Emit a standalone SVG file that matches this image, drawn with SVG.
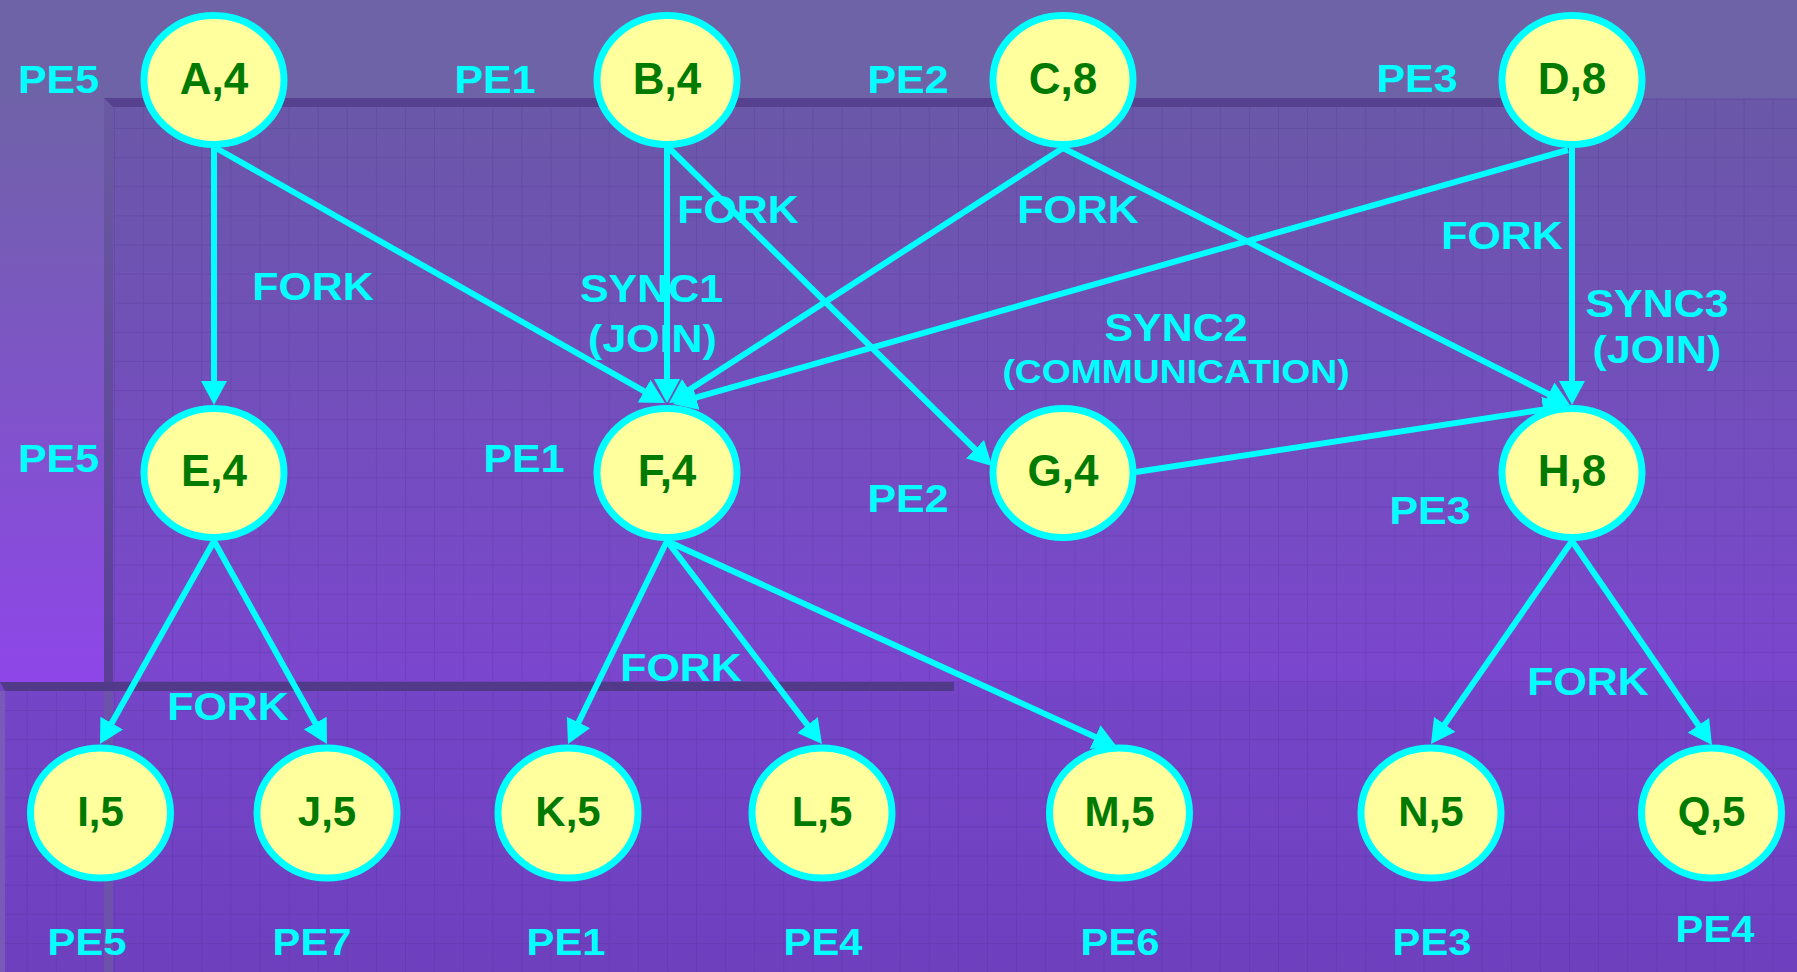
<svg xmlns="http://www.w3.org/2000/svg" width="1797" height="972" viewBox="0 0 1797 972">
<style>
.node ellipse{fill:#FFFF9E;stroke:#00FFFF;stroke-width:7}
.node text{font-family:"Liberation Sans",Arial,sans-serif;font-weight:bold;font-size:44px;fill:#007A00;text-anchor:middle}
.node.low text{font-size:42px}
.edge{stroke:#00FFFF;stroke-width:6;fill:none;marker-end:url(#arr)}
.lbl{font-family:"Liberation Sans",Arial,sans-serif;font-weight:bold;font-size:38px;fill:#00FFFF;text-anchor:middle}
.sm{font-size:33px}
.bt{font-size:37px}
</style>
<defs>
<linearGradient id="gLeft" x1="0" y1="98" x2="0" y2="682" gradientUnits="userSpaceOnUse">
<stop offset="0" stop-color="#6F62A8"/><stop offset="1" stop-color="#8E46E8"/>
</linearGradient>
<linearGradient id="gPanel" x1="0" y1="98" x2="0" y2="682" gradientUnits="userSpaceOnUse">
<stop offset="0" stop-color="#6A58A8"/><stop offset="1" stop-color="#7B46CE"/>
</linearGradient>
<linearGradient id="gLow" x1="0" y1="682" x2="0" y2="972" gradientUnits="userSpaceOnUse">
<stop offset="0" stop-color="#7545C8"/><stop offset="1" stop-color="#6E40BE"/>
</linearGradient>
<linearGradient id="gBorderL" x1="0" y1="98" x2="0" y2="682" gradientUnits="userSpaceOnUse">
<stop offset="0" stop-color="#6A5AA2"/><stop offset="1" stop-color="#5A3E96"/>
</linearGradient>
<pattern id="grid" x="114" y="99" width="29.1" height="29.1" patternUnits="userSpaceOnUse">
<path d="M0 0.5H29.1M0.5 0V29.1" stroke="#3E2478" stroke-opacity="0.18" stroke-width="1" fill="none"/>
</pattern>
<marker id="arr" viewBox="0 0 24 26" refX="14" refY="13" markerWidth="24" markerHeight="26" markerUnits="userSpaceOnUse" orient="auto">
<path d="M0 0L24 13L0 26Z" fill="#00FFFF"/>
</marker>
</defs>

<g id="background">
<rect x="0" y="0" width="1797" height="972" fill="#6E63A6"/>
<rect x="0" y="98" width="104" height="584" fill="url(#gLeft)"/>
<rect x="104" y="98" width="1693" height="584" fill="url(#gPanel)"/>
<rect x="104" y="98" width="1693" height="584" fill="url(#grid)"/>
<rect x="0" y="682" width="1797" height="290" fill="url(#gLow)"/>
<rect x="0" y="682" width="1797" height="290" fill="url(#grid)"/>
<rect x="104" y="98" width="9" height="584" fill="url(#gBorderL)"/>
<path d="M104 98H1540V107H113Z" fill="#56418E"/>
<rect x="104" y="691" width="9" height="281" fill="#6C52AA"/>
<rect x="0" y="691" width="5" height="281" fill="#7A5AB8"/>
<path d="M0 682H954V691H5Z" fill="#513A8A"/>
</g>

<g id="connectors">
<line class="edge" x1="214" y1="148" x2="214" y2="395"/>
<line class="edge" x1="216" y1="148" x2="656.3" y2="398.1"/>
<line class="edge" x1="667" y1="148" x2="667" y2="393"/>
<line class="edge" x1="669" y1="148" x2="984.9" y2="459"/>
<line class="edge" x1="1063" y1="148" x2="677.4" y2="397.6"/>
<line class="edge" x1="1063" y1="148" x2="1561.1" y2="400.5"/>
<line class="edge" x1="1568" y1="150" x2="682.6" y2="401.3"/>
<line class="edge" x1="1572" y1="148" x2="1572" y2="395"/>
<line class="edge" x1="1136" y1="472" x2="1557.1" y2="407.5"/>
<line class="edge" x1="214" y1="541" x2="104.9" y2="735.3"/>
<line class="edge" x1="214" y1="541" x2="322.1" y2="735.3"/>
<line class="edge" x1="667" y1="541" x2="572.4" y2="735"/>
<line class="edge" x1="667" y1="541" x2="815.9" y2="736.1"/>
<line class="edge" x1="667" y1="541" x2="1107.9" y2="742.8"/>
<line class="edge" x1="1572" y1="541" x2="1436.7" y2="735.8"/>
<line class="edge" x1="1572" y1="541" x2="1706.3" y2="736.8"/>
</g>

<g id="node-A" class="node"><ellipse cx="214" cy="80" rx="70" ry="64.5"/><text x="214" y="94">A,4</text></g>
<g id="node-B" class="node"><ellipse cx="667" cy="80" rx="70" ry="64.5"/><text x="667" y="94">B,4</text></g>
<g id="node-C" class="node"><ellipse cx="1063" cy="80" rx="70" ry="64.5"/><text x="1063" y="94">C,8</text></g>
<g id="node-D" class="node"><ellipse cx="1572" cy="80" rx="70" ry="64.5"/><text x="1572" y="94">D,8</text></g>
<g id="node-E" class="node"><ellipse cx="214" cy="473" rx="70" ry="64.5"/><text x="214" y="486">E,4</text></g>
<g id="node-F" class="node"><ellipse cx="667" cy="473" rx="70" ry="64.5"/><text x="667" y="486">F,4</text></g>
<g id="node-G" class="node"><ellipse cx="1063" cy="473" rx="70" ry="64.5"/><text x="1063" y="486">G,4</text></g>
<g id="node-H" class="node"><ellipse cx="1572" cy="473" rx="70" ry="64.5"/><text x="1572" y="486">H,8</text></g>
<g id="node-I" class="node low"><ellipse cx="100.5" cy="813" rx="70" ry="65"/><text x="100.5" y="826">I,5</text></g>
<g id="node-J" class="node low"><ellipse cx="327" cy="813" rx="70" ry="65"/><text x="327" y="826">J,5</text></g>
<g id="node-K" class="node low"><ellipse cx="568" cy="813" rx="70" ry="65"/><text x="568" y="826">K,5</text></g>
<g id="node-L" class="node low"><ellipse cx="822" cy="813" rx="70" ry="65"/><text x="822" y="826">L,5</text></g>
<g id="node-M" class="node low"><ellipse cx="1119.5" cy="813" rx="70" ry="65"/><text x="1119.5" y="826">M,5</text></g>
<g id="node-N" class="node low"><ellipse cx="1431" cy="813" rx="70" ry="65"/><text x="1431" y="826">N,5</text></g>
<g id="node-Q" class="node low"><ellipse cx="1711.5" cy="813" rx="70" ry="65"/><text x="1711.5" y="826">Q,5</text></g>

<g id="labels">
<text class="lbl" transform="translate(58.5 93) scale(1.13 1)">PE5</text>
<text class="lbl" transform="translate(495 93) scale(1.13 1)">PE1</text>
<text class="lbl" transform="translate(908 93) scale(1.13 1)">PE2</text>
<text class="lbl" transform="translate(1417 92) scale(1.13 1)">PE3</text>
<text class="lbl" transform="translate(313 300) scale(1.13 1)">FORK</text>
<text class="lbl" transform="translate(738 223) scale(1.13 1)">FORK</text>
<text class="lbl" transform="translate(1078 223) scale(1.13 1)">FORK</text>
<text class="lbl" transform="translate(1502 249) scale(1.13 1)">FORK</text>
<text class="lbl" transform="translate(651.5 302) scale(1.13 1)">SYNC1</text>
<text class="lbl" transform="translate(652.5 352) scale(1.13 1)">(JOIN)</text>
<text class="lbl" transform="translate(1176 341) scale(1.13 1)">SYNC2</text>
<text class="lbl sm" transform="translate(1176 383) scale(1.13 1)">(COMMUNICATION)</text>
<text class="lbl" transform="translate(1657 317) scale(1.13 1)">SYNC3</text>
<text class="lbl" transform="translate(1657 363) scale(1.13 1)">(JOIN)</text>
<text class="lbl" transform="translate(58.5 472) scale(1.13 1)">PE5</text>
<text class="lbl" transform="translate(524 472) scale(1.13 1)">PE1</text>
<text class="lbl" transform="translate(908 512) scale(1.13 1)">PE2</text>
<text class="lbl" transform="translate(1430 524) scale(1.13 1)">PE3</text>
<text class="lbl" transform="translate(228 720) scale(1.13 1)">FORK</text>
<text class="lbl" transform="translate(681 681) scale(1.13 1)">FORK</text>
<text class="lbl" transform="translate(1588 695) scale(1.13 1)">FORK</text>
<text class="lbl bt" transform="translate(87 955) scale(1.13 1)">PE5</text>
<text class="lbl bt" transform="translate(312 955) scale(1.13 1)">PE7</text>
<text class="lbl bt" transform="translate(566 955) scale(1.13 1)">PE1</text>
<text class="lbl bt" transform="translate(823 955) scale(1.13 1)">PE4</text>
<text class="lbl bt" transform="translate(1120 955) scale(1.13 1)">PE6</text>
<text class="lbl bt" transform="translate(1432 955) scale(1.13 1)">PE3</text>
<text class="lbl bt" transform="translate(1715 942) scale(1.13 1)">PE4</text>
</g>
</svg>
